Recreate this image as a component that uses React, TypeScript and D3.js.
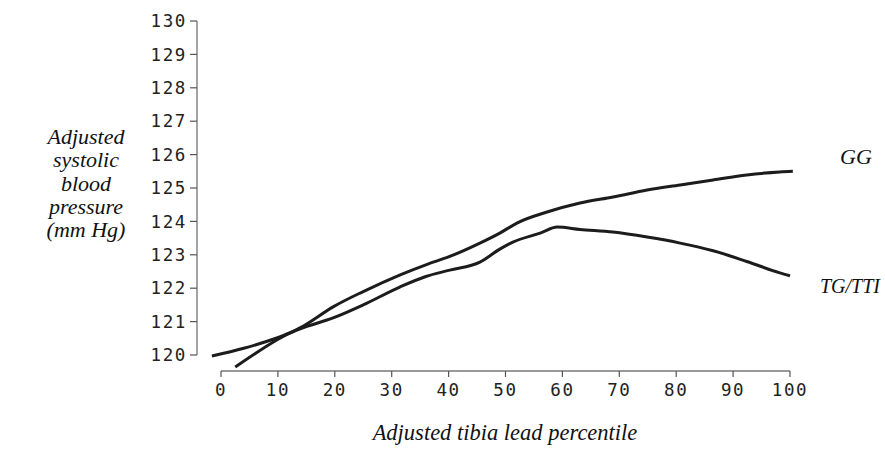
import React from "react";
import * as d3 from "d3";

const xTicks = [0, 10, 20, 30, 40, 50, 60, 70, 80, 90, 100];
const yTicks = [120, 121, 122, 123, 124, 125, 126, 127, 128, 129, 130];

const ggX = [2.5, 9.8, 15, 19.7, 25, 31.5, 36, 40.2, 45.5, 49, 52, 57.3, 63.1, 68.9, 74.9, 80.7, 86.5, 92.4, 98.2, 100.5];
const ggY = [119.64, 120.45, 120.92, 121.44, 121.9, 122.4, 122.7, 122.95, 123.35, 123.65, 123.95, 124.28, 124.55, 124.73, 124.94, 125.09, 125.24, 125.39, 125.48, 125.5];

const tgX = [-1.6, 4, 9.8, 15, 19.7, 25, 31.5, 36, 40.2, 45.5, 49, 51.3, 56.1, 59.1, 63.1, 68.9, 74.9, 80.7, 86.5, 92.4, 98.2, 100];
const tgY = [119.97, 120.2, 120.51, 120.85, 121.11, 121.5, 122.04, 122.35, 122.54, 122.78, 123.17, 123.38, 123.65, 123.83, 123.76, 123.68, 123.53, 123.35, 123.12, 122.8, 122.46, 122.37];

const yLabelLines = ["Adjusted", "systolic", "blood", "pressure", "(mm Hg)"];
const xLabel = "Adjusted tibia lead percentile";
const seriesNames = ["GG", "TG/TTI"];

export default function App() {
  const W = 885, H = 470;
  const x = d3.scaleLinear().domain([0, 100]).range([221, 790]);
  const y = d3.scaleLinear().domain([120, 130]).range([355, 21]);
  const line = d3.line<[number, number]>().x(d => x(d[0])).y(d => y(d[1])).curve(d3.curveMonotoneX);
  const gg = ggX.map((v, i) => [v, ggY[i]] as [number, number]);
  const tg = tgX.map((v, i) => [v, tgY[i]] as [number, number]);
  const mono = "DejaVu Sans Mono, monospace";
  const serif = "Liberation Serif, Times New Roman, DejaVu Serif, serif";
  const axisY = 371;
  const axisX = 197;
  return (
    <svg width={W} height={H} style={{ position: "absolute", left: 0, top: 0, background: "#fff" }}>
      <rect width={W} height={H} fill="#fff" />
      <line x1={axisX} x2={axisX} y1={y(130)} y2={y(120)} stroke="#8c8c8c" strokeWidth={1.6} />
      {yTicks.map(t => (
        <g key={t}>
          <line x1={axisX - 7} x2={axisX} y1={y(t)} y2={y(t)} stroke="#555" strokeWidth={1.2} />
          <text x={187} y={y(t)} dy="0.35em" textAnchor="end" fontFamily={mono} fontSize={17.5} letterSpacing={1.6} fill="#222">{t}</text>
        </g>
      ))}
      <line x1={x(0)} x2={x(100)} y1={axisY} y2={axisY} stroke="#777" strokeWidth={1.6} />
      {xTicks.map(t => (
        <g key={t}>
          <line x1={x(t)} x2={x(t)} y1={axisY} y2={axisY + 6} stroke="#555" strokeWidth={1.2} />
          <text x={x(t)} y={390} dy="0.35em" textAnchor="middle" fontFamily={mono} fontSize={17.5} letterSpacing={1.6} fill="#222">{t}</text>
        </g>
      ))}
      <path d={line(tg) || ""} fill="none" stroke="#1c1c1c" strokeWidth={3} />
      <path d={line(gg) || ""} fill="none" stroke="#1c1c1c" strokeWidth={3} />
      {yLabelLines.map((s, i) => (
        <text key={s} x={86} y={144 + i * 23.3} textAnchor="middle" fontFamily={serif} fontStyle="italic" fontSize={22} fill="#111">{s}</text>
      ))}
      <text x={505} y={440} textAnchor="middle" fontFamily={serif} fontStyle="italic" fontSize={22.5} fill="#111">{xLabel}</text>
      <text x={840} y={164} fontFamily={serif} fontStyle="italic" fontSize={22} fill="#111">{seriesNames[0]}</text>
      <text x={820} y={293} fontFamily={serif} fontStyle="italic" fontSize={20} fill="#111">{seriesNames[1]}</text>
    </svg>
  );
}
